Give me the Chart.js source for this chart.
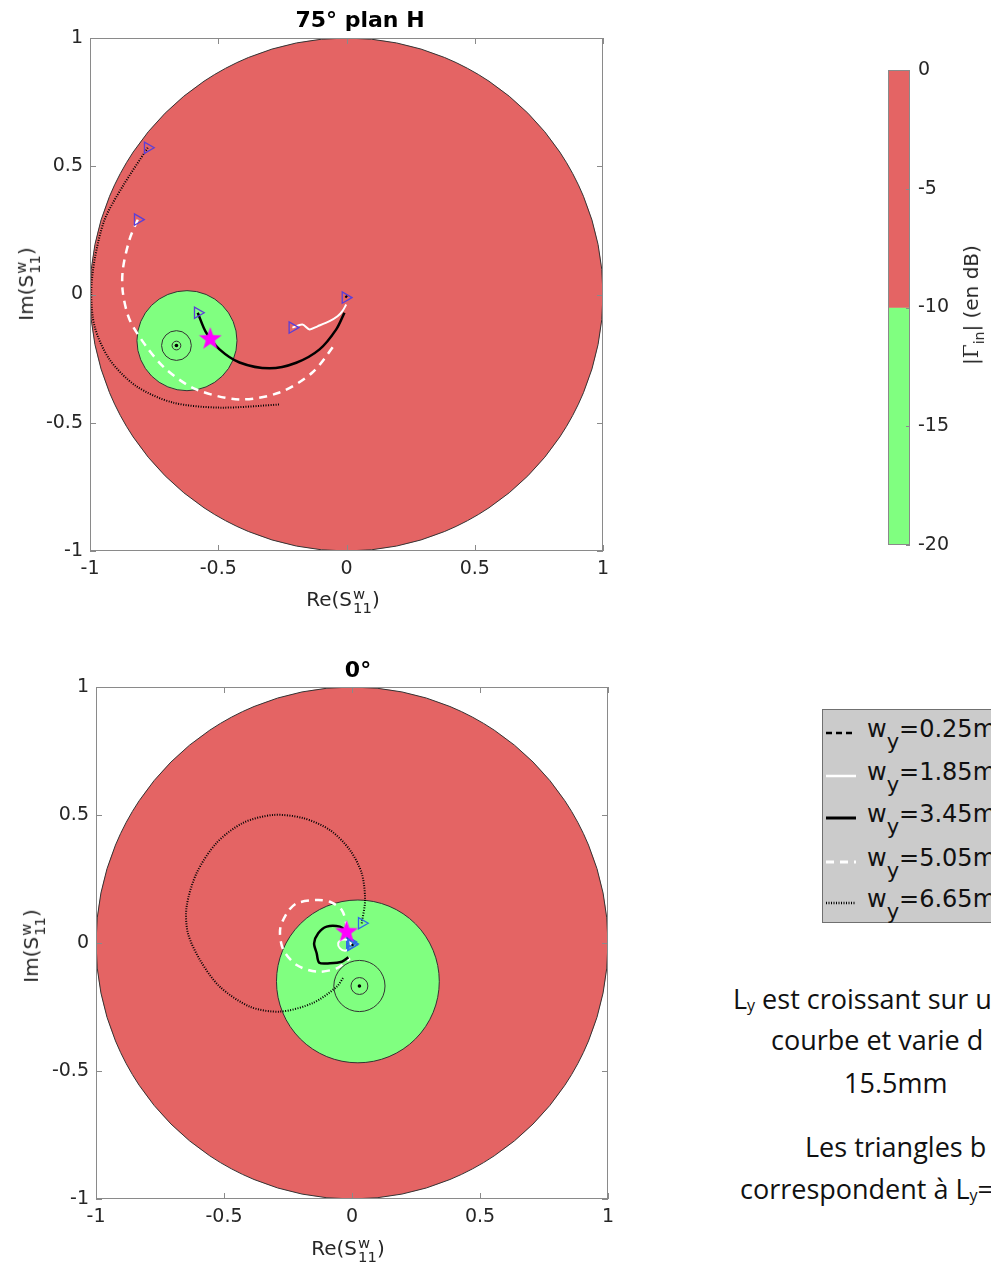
<!DOCTYPE html>
<html><head><meta charset="utf-8">
<script src="https://cdn.jsdelivr.net/npm/chart.js@4.4.0/dist/chart.umd.min.js"></script>
<style>
html,body{margin:0;padding:0;background:#fff;}
body{width:991px;height:1267px;position:relative;overflow:hidden;font-family:"DejaVu Sans",sans-serif;color:#262626;}
canvas{position:absolute;}
.title{position:absolute;font-weight:bold;font-size:22px;color:#000;transform:translateX(-50%);white-space:nowrap;line-height:1;}
.axt{position:absolute;font-size:20px;white-space:nowrap;transform:translate(-50%,-50%);line-height:1;}
.axt.rot{transform:translate(-50%,-50%) rotate(-90deg);}
.ss{display:inline-block;vertical-align:-0.45em;font-size:0.74em;line-height:0.95;margin-left:1px;}
.ss i{display:block;font-style:normal;}
#legend{position:absolute;left:822px;top:709px;width:220px;height:214px;background:#cbcbcb;border:1px solid #707070;box-sizing:border-box;}
.lrow{position:absolute;left:0;width:220px;height:30px;}
.lrow svg{position:absolute;left:2px;top:0;}
.lrow span{position:absolute;left:44px;top:-1px;font-size:24px;line-height:24px;color:#111;white-space:nowrap;}
.lrow sub{font-size:21px;vertical-align:-0.55em;line-height:0;}
.note{position:absolute;font-family:"Open Sans",Lato,sans-serif;font-size:27px;line-height:34px;color:#111;white-space:nowrap;}
.note sub{font-size:16px;vertical-align:-0.1em;line-height:0;}
#cblabel{position:absolute;left:971px;top:305px;transform:translate(-50%,-50%) rotate(-90deg);font-size:20px;white-space:nowrap;line-height:1;}
#cblabel .g{font-family:"DejaVu Serif",serif;}
#cblabel sub{font-size:14px;vertical-align:-0.4em;line-height:0;}
</style></head>
<body>
<canvas id="topChart" width="620" height="600" style="left:0;top:0;width:620px;height:600px"></canvas>
<canvas id="botChart" width="630" height="617" style="left:0;top:650px;width:630px;height:617px"></canvas>
<canvas id="cbChart" width="131" height="520" style="left:860px;top:50px;width:131px;height:520px"></canvas>

<div class="title" style="left:360px;top:9px">75° plan H</div>
<div class="title" style="left:358px;top:659px">0°</div>

<div class="axt" style="left:343px;top:601px">Re(S<span class="ss"><i>w</i><i>11</i></span>)</div>
<div class="axt rot" style="left:28px;top:284px">Im(S<span class="ss"><i>w</i><i>11</i></span>)</div>
<div class="axt" style="left:348px;top:1250px">Re(S<span class="ss"><i>w</i><i>11</i></span>)</div>
<div class="axt rot" style="left:33px;top:946px">Im(S<span class="ss"><i>w</i><i>11</i></span>)</div>

<div id="cblabel">|<span class="g">Γ</span><sub>in</sub>| (en dB)</div>

<div id="legend"></div>

<div class="note" style="left:733px;top:982px">L<sub>y</sub> est croissant sur u</div>
<div class="note" style="left:771px;top:1023px">courbe et varie d</div>
<div class="note" style="left:844px;top:1066px">15.5mm</div>
<div class="note" style="left:805px;top:1130px">Les triangles b</div>
<div class="note" style="left:740px;top:1172px">correspondent à L<sub>y</sub>=</div>

<script>
// ---- data: (Re, Im) points ----
const wyLabels = ['0.25mm','1.85mm','3.45mm','5.05mm','6.65mm'];
const cbTicks = [0,-5,-10,-15,-20];
const cbRed = [-10,0];
const cbGreen = [-20,-10];

// 75° plan H
const top_wy025 = [[-0.004,-0.012],[0.002,-0.004]];
const top_wy185 = [[-0.211,-0.129],[-0.172,-0.117],[-0.144,-0.136],[-0.113,-0.124],[-0.066,-0.104],[-0.035,-0.085],[-0.016,-0.065],[-0.001,-0.039]];
const top_wy345 = [[-0.580,-0.071],[-0.547,-0.149],[-0.495,-0.214],[-0.417,-0.265],[-0.300,-0.288],[-0.196,-0.266],[-0.105,-0.214],[-0.040,-0.136],[-0.008,-0.071]];
const top_wy505 = [[-0.814,0.292],[-0.846,0.214],[-0.872,0.097],[-0.872,0.008],[-0.846,-0.097],[-0.781,-0.202],[-0.703,-0.292],[-0.586,-0.370],[-0.417,-0.409],[-0.261,-0.382],[-0.133,-0.304],[-0.040,-0.187]];
const top_wy665 = [[-0.775,0.572],[-0.873,0.421],[-0.943,0.292],[-0.982,0.136],[-0.995,0.008],[-0.982,-0.125],[-0.924,-0.253],[-0.820,-0.357],[-0.678,-0.421],[-0.495,-0.441],[-0.261,-0.429]];
const top_zone = [-0.622,-0.180,0.195];            // -10 dB disc: centre Re, Im, radius
const top_rings = [[-0.663,-0.199,0.058],[-0.663,-0.199,0.017]];
const top_best = [[-0.531,-0.169]];

// 0°
const bot_wy025 = [[0.000,-0.004],[0.004,-0.012]];
const bot_wy185 = [[-0.004,-0.008],[-0.005,-0.001],[-0.018,0.012],[-0.040,0.012],[-0.054,-0.001],[-0.047,-0.021],[-0.027,-0.030],[-0.008,-0.021]];
const bot_wy345 = [[-0.008,0.005],[-0.027,0.047],[-0.047,0.064],[-0.099,0.064],[-0.132,0.038],[-0.148,-0.001],[-0.138,-0.040],[-0.128,-0.077],[-0.086,-0.079],[-0.040,-0.073],[-0.014,-0.056]];
const bot_wy505 = [[-0.008,0.000],[-0.021,0.070],[-0.040,0.129],[-0.086,0.161],[-0.138,0.168],[-0.216,0.155],[-0.255,0.116],[-0.281,0.051],[-0.268,-0.027],[-0.216,-0.086],[-0.138,-0.112],[-0.060,-0.099],[-0.008,-0.060]];
const bot_wy665 = [[0.038,0.077],[0.051,0.168],[0.038,0.272],[-0.008,0.363],[-0.086,0.441],[-0.191,0.488],[-0.309,0.500],[-0.426,0.469],[-0.529,0.391],[-0.607,0.273],[-0.646,0.142],[-0.641,0.039],[-0.594,-0.066],[-0.516,-0.171],[-0.398,-0.249],[-0.281,-0.268],[-0.152,-0.234],[-0.060,-0.171],[-0.035,-0.137]];
const bot_zone = [0.023,-0.150,0.318];
const bot_rings = [[0.029,-0.168,0.100],[0.029,-0.168,0.033]];
const bot_best = [[-0.021,0.048]];

// ---- styles ----
const RED = '#e46464', GREEN = '#80ff80';
const wyStyles = [
  {color:'#000', width:2, dash:[6,4]},
  {color:'#fff', width:2, dash:[]},
  {color:'#000', width:2.5, dash:[]},
  {color:'#fff', width:2.5, dash:[8,6]},
  {color:'#000', width:2, dash:[1,1.5]}
];
const FONT = {family:'DejaVu Sans', size:19};

function starImg(size, color){
  const c = document.createElement('canvas'); c.width = c.height = size;
  const g = c.getContext('2d'); g.fillStyle = color; g.beginPath();
  for(let k=0;k<10;k++){
    const r = k%2 ? size*0.2 : size*0.5, a = -Math.PI/2 + k*Math.PI/5;
    g.lineTo(size/2 + r*Math.cos(a), size/2 + r*Math.sin(a) + size*0.05);
  }
  g.closePath(); g.fill(); return c;
}
const STAR = starImg(24, '#ff00ff');

const discs = {
  id:'discs',
  beforeDatasetsDraw(chart, args, o){
    const {ctx, chartArea:a, scales:{x,y}} = chart;
    const k = x.getPixelForValue(1) - x.getPixelForValue(0);
    ctx.save(); ctx.beginPath(); ctx.rect(a.left,a.top,a.width,a.height); ctx.clip();
    const disc = (cx,cy,r,fill) => {
      ctx.beginPath(); ctx.arc(x.getPixelForValue(cx), y.getPixelForValue(cy), r*k, 0, 2*Math.PI);
      if(fill){ ctx.fillStyle = fill; ctx.fill(); }
      ctx.lineWidth = 1; ctx.strokeStyle = '#333'; ctx.stroke();
    };
    disc(0,0,1,RED);
    disc(o.zone[0],o.zone[1],o.zone[2],GREEN);
    o.rings.forEach(r => disc(r[0],r[1],r[2],null));
    const c = o.rings[0];
    ctx.beginPath(); ctx.arc(x.getPixelForValue(c[0]), y.getPixelForValue(c[1]), 1.8, 0, 2*Math.PI);
    ctx.fillStyle = '#000'; ctx.fill();
    ctx.restore();
  }
};

const frame = {
  id:'frame',
  afterDatasetsDraw(chart, args, o){
    const {ctx, chartArea:a, scales} = chart;
    ctx.save(); ctx.strokeStyle = '#8a8a8a'; ctx.lineWidth = 1;
    ctx.strokeRect(a.left+0.5, a.top+0.5, a.width-1, a.height-1);
    const L = o.len || 6;
    ctx.beginPath();
    if(scales.x && scales.x.options.display !== false) scales.x.ticks.forEach(t => {
      const p = Math.round(scales.x.getPixelForValue(t.value))+0.5;
      ctx.moveTo(p,a.bottom); ctx.lineTo(p,a.bottom-L);
      ctx.moveTo(p,a.top); ctx.lineTo(p,a.top+L);
    });
    scales.y.ticks.forEach(t => {
      const p = Math.round(scales.y.getPixelForValue(t.value))+0.5;
      if(!o.rightOnly){ ctx.moveTo(a.left,p); ctx.lineTo(a.left+L,p); }
      ctx.moveTo(a.right,p); ctx.lineTo(a.right-L,p);
    });
    ctx.stroke(); ctx.restore();
  }
};

function curveSets(curves, triColor){
  return curves.map((pts,i) => ({
    data: pts.map(p => ({x:p[0], y:p[1]})),
    showLine:true, fill:false, tension:0.3,
    borderColor: wyStyles[i].color, borderWidth: wyStyles[i].width, borderDash: wyStyles[i].dash,
    pointStyle:'triangle', rotation:90,
    pointRadius: c => c.dataIndex === 0 ? 6.5 : 0,
    pointHoverRadius: c => c.dataIndex === 0 ? 6.5 : 0,
    pointBorderColor: triColor, pointBackgroundColor:'rgba(0,0,0,0)', pointBorderWidth:1.3
  }));
}

function smith(id, curves, zone, rings, best, triColor, yw, pad){
  const sets = curveSets(curves, triColor);
  sets.unshift({data: best.map(p => ({x:p[0], y:p[1]})), pointStyle: STAR, pointRadius:12, showLine:false});
  new Chart(document.getElementById(id), {
    type:'scatter',
    data:{datasets: sets},
    options:{
      responsive:false, animation:false, devicePixelRatio:1,
      layout:{padding:pad},
      plugins:{legend:{display:false}, tooltip:{enabled:false}, discs:{zone, rings}, frame:{}},
      scales:{
        x:{type:'linear', min:-1, max:1, afterFit: s => { s.height = 30; },
           grid:{display:false, drawTicks:false}, border:{display:false},
           ticks:{stepSize:0.5, padding:7, color:'#262626', font:FONT, maxRotation:0, autoSkip:false, callback: v => String(v)}},
        y:{type:'linear', min:-1, max:1, afterFit: s => { s.width = yw; },
           grid:{display:false, drawTicks:false}, border:{display:false},
           ticks:{stepSize:0.5, padding:7, color:'#262626', font:FONT, autoSkip:false, callback: v => String(v)}}
      }
    },
    plugins:[discs, frame]
  });
}

smith('topChart', [top_wy025, top_wy185, top_wy345, top_wy505, top_wy665], top_zone, top_rings, top_best,
      '#5a3fd8', 90, {top:38, left:0, right:17, bottom:19});
smith('botChart', [bot_wy025, bot_wy185, bot_wy345, bot_wy505, bot_wy665], bot_zone, bot_rings, bot_best,
      '#2e6ae6', 96, {top:37, left:0, right:22, bottom:38});

// colour bar
new Chart(document.getElementById('cbChart'), {
  type:'bar',
  data:{labels:['c'], datasets:[
    {data:[cbRed], backgroundColor:RED},
    {data:[cbGreen], backgroundColor:GREEN}
  ]},
  options:{
    responsive:false, animation:false, devicePixelRatio:1,
    layout:{padding:{top:20, left:28, bottom:25, right:0}},
    barPercentage:1, categoryPercentage:1,
    plugins:{legend:{display:false}, tooltip:{enabled:false}, frame:{len:4, rightOnly:true}},
    scales:{
      x:{display:false, stacked:true},
      y:{position:'right', min:cbTicks[cbTicks.length-1], max:cbTicks[0], afterFit: s => { s.width = 81; },
         grid:{display:false, drawTicks:false}, border:{display:false},
         afterBuildTicks: s => { s.ticks = cbTicks.map(v => ({value:v})); },
         ticks:{padding:8, color:'#262626', font:FONT, callback: v => String(v)}}
    }
  },
  plugins:[frame]
});

// legend rows
const lg = document.getElementById('legend');
const rowY = [732, 775, 817, 861, 902];
wyLabels.forEach((lab,i) => {
  const st = wyStyles[i];
  const r = document.createElement('div'); r.className = 'lrow';
  r.style.top = (rowY[i] - 709 - 15) + 'px';
  r.innerHTML = `<svg width="34" height="30"><line x1="1" y1="15" x2="31" y2="15" stroke="${st.color}" stroke-width="${st.width+0.5}" stroke-dasharray="${st.dash.join(' ')}"/></svg>` +
    `<span>w<sub>y</sub>=${lab}</span>`;
  lg.appendChild(r);
});
</script>
</body></html>
